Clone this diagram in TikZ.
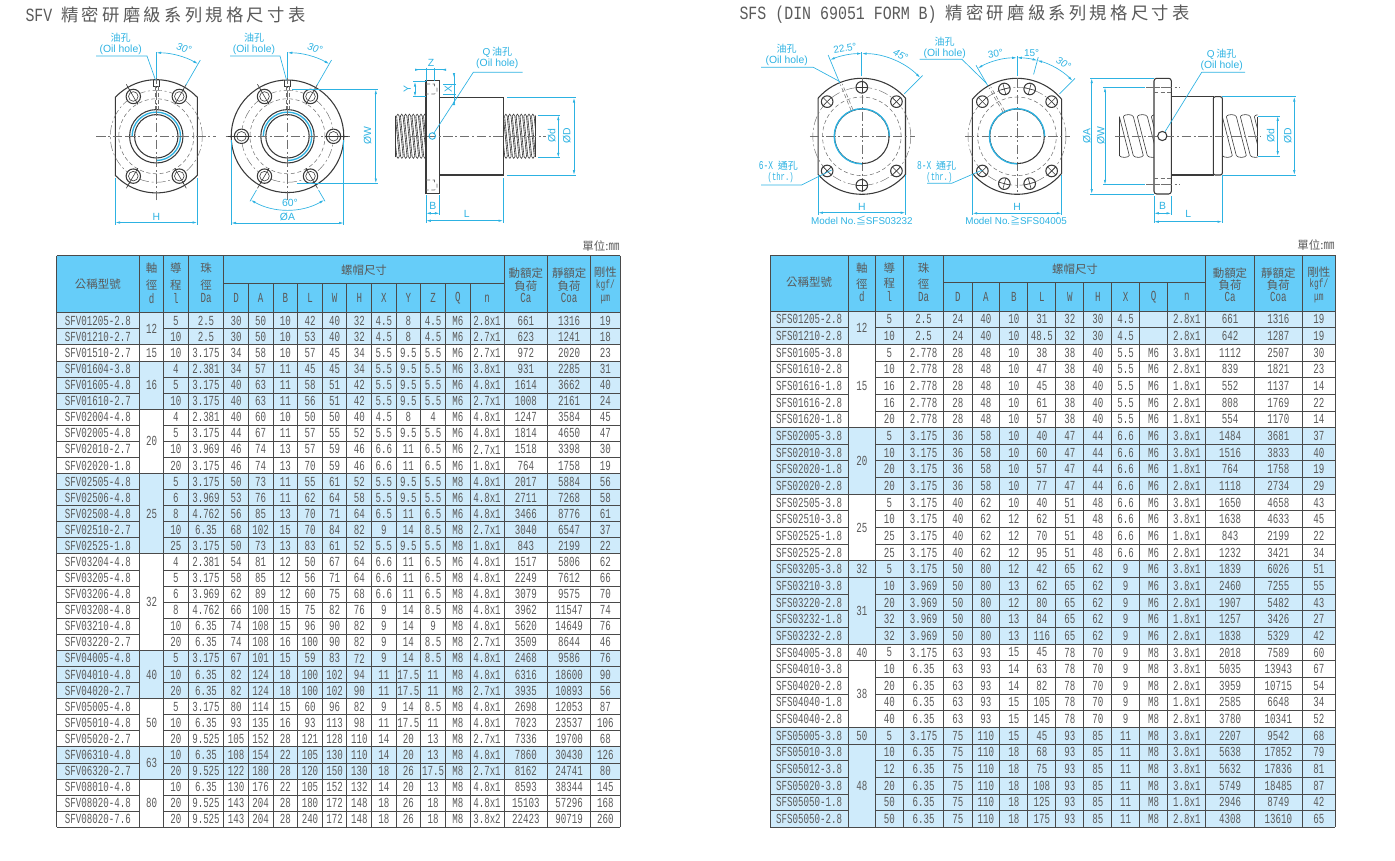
\documentclass[tikz,border=0pt]{standalone}
\usepackage{fontspec}
\usetikzlibrary{arrows.meta,calc}
\setmainfont{Liberation Sans}
\newfontfamily\tabfont[FakeStretch=0.66]{Liberation Mono}
\newfontfamily\ttlfont[FakeStretch=0.80]{Liberation Mono}
\newfontfamily\cjkfont{Noto Sans CJK TC}
\newfontfamily\ttlcjk[LetterSpace=19]{Noto Sans CJK TC}
\definecolor{headblue}{HTML}{66CDF9}
\definecolor{bandblue}{HTML}{CFEBFB}
\definecolor{dimblue}{HTML}{2DB2E2}
\definecolor{tabgray}{HTML}{5A5A5A}
\definecolor{gridgray}{HTML}{4A4A4A}
\definecolor{partgray}{HTML}{3A3A3A}
\definecolor{hidegray}{HTML}{707070}
\tikzset{every picture/.style={line width=0.75pt}}
\tikzset{
  cell/.style={font=\tabfont\fontsize{10.4}{11}\selectfont,text=tabgray,inner sep=0pt},
  head/.style={font=\cjkfont\fontsize{8.6}{10}\selectfont,text=tabgray,inner sep=0pt},
  grid/.style={draw=gridgray,line width=0.65pt},
  part/.style={draw=partgray,line width=0.8pt},
  thinpart/.style={draw=partgray,line width=0.45pt},
  centre/.style={draw=hidegray,line width=0.35pt,dash pattern=on 7pt off 2pt on 1.5pt off 2pt},
  hidden/.style={draw=hidegray,line width=0.4pt,dash pattern=on 3pt off 2pt},
  ext/.style={draw=dimblue,line width=0.5pt},
  dim/.style={draw=dimblue,line width=0.5pt,{Latex[length=3.6pt,width=1.8pt]}-{Latex[length=3.6pt,width=1.8pt]}},
  dimout/.style={draw=dimblue,line width=0.5pt,{Latex[length=3.6pt,width=1.8pt,reversed]}-{Latex[length=3.6pt,width=1.8pt,reversed]}},
  dimtext/.style={text=dimblue,font=\fontsize{7.8}{9}\selectfont,inner sep=0pt},
  angtext/.style={text=dimblue,font=\itshape\fontsize{7.5}{9}\selectfont,inner sep=0pt},
  cjktext/.style={text=dimblue,font=\cjkfont\fontsize{7.5}{9}\selectfont,inner sep=0pt},
  monotext/.style={text=dimblue,font=\tabfont\fontsize{9}{10}\selectfont,inner sep=0pt},
}
\newcommand{\headlatin}{\tabfont\fontsize{10.4}{11}\selectfont}
\newcommand{\headsmall}{\tabfont\fontsize{9}{10}\selectfont}
% flange seen from the front: radius, half width
\newcommand{\flangeface}[2]{%
  \pgfmathsetmacro\flangeang{acos(#2/#1)}
  \draw[part] (\flangeang:#1) arc[start angle=\flangeang,end angle=180-\flangeang,radius=#1] -- (180+\flangeang:#1) arc[start angle=180+\flangeang,end angle=360-\flangeang,radius=#1] -- cycle;}
% counterbored bolt hole of the SFV nut
\newcommand{\boltring}[1]{%
  \draw[thinpart] (#1:37) -- (#1:60);
  \draw[part,fill=white] (#1:46) circle (7.2);
  \draw[thinpart] (#1:46) circle (4.8);
  \draw[thinpart] (#1:37) -- (#1:55);}
% through hole of the SFS nut
\newcommand{\boltplain}[1]{%
  \draw[part] (#1:49) circle (5.8);
  \draw[thinpart] (#1:43.2) -- (#1:54.8);
  \draw[thinpart] ($(#1:49)+(#1+90:5.8)$) -- ($(#1:49)+(#1-90:5.8)$);}
% screw seen from the side: x0, x1, ytop, ybot, pitch, slant, gap
\newcommand{\screwside}[7]{%
  \pgfmathtruncatemacro\screwn{(#2-#1)/#5+1}
  \begin{scope}
  \clip (#1,#3-3) rectangle (#2,#4+3);
  \foreach \k in {-3,...,\screwn}{
    \pgfmathsetmacro\tx{#1+\k*#5}
    \draw[thinpart] (\tx,#3) -- (\tx+#6,#4) (\tx+#7,#3) -- (\tx+#7+#6,#4);
    \draw[thinpart] (\tx+#7,#3) .. controls (\tx+#7+1,#3-2.5) and (\tx+#5-1,#3-2.5) .. (\tx+#5,#3);
    \draw[thinpart] (\tx+#7+#6,#4) .. controls (\tx+#7+#6+1,#4+2.5) and (\tx+#5+#6-1,#4+2.5) .. (\tx+#5+#6,#4);
  }
  \end{scope}}
\def\colsA{{97.9,175.85,206,236.1,260.65,285.4,310,334.55,359.3,383.9,408.45,433.2,457.8,487,525.8,569.2,605.4}}
\def\colsB{{809.15,889.3,923.6,957.95,985.85,1013.75,1041.8,1069.85,1097.75,1125.65,1153.7,1186.75,1230,1278.35,1318.75}}

\begin{document}
\begin{tikzpicture}[x=0.75pt,y=0.75pt,yscale=-1,xscale=1]
\useasboundingbox (0,0) rectangle (1395,860);

% Titles
\draw (25,14.5) node [anchor=west,inner sep=0pt,text=tabgray] (titleA) {\ttlfont\fontsize{14}{16}\selectfont SFV \ttlcjk\fontsize{13}{16}\selectfont 精密研磨級系列規格尺寸表};
\draw (739,14.5) node [anchor=west,inner sep=0pt,text=tabgray] (titleB) {\ttlfont\fontsize{14}{16}\selectfont SFS (DIN 69051 FORM B) \ttlcjk\fontsize{13}{16}\selectfont 精密研磨級系列規格尺寸表};
\draw (620,246.5) node [anchor=east,head] (unitA) {單位:{\headlatin mm}};
\draw (1335,245.5) node [anchor=east,head] (unitB) {單位:{\headlatin mm}};

%%%%%%%%%% SFV table
%Shape: header and bands
\fill[headblue] (56.5,255.7) rectangle (620,312.7);
\foreach \a/\b in {1/2,4/6,11/15,22/24,28/29}
  \fill[bandblue] (56.5,{312.7+16.08*(\a-1)}) rectangle (620,{312.7+16.08*\b});
%Straight Lines
\foreach \a in {0,...,32}
  \draw[grid] (56.5,{312.7+16.08*\a}) -- (139.3,{312.7+16.08*\a}) (163.7,{312.7+16.08*\a}) -- (620,{312.7+16.08*\a});
\foreach \a in {0,2,3,6,10,15,21,24,27,29,32}
  \draw[grid] (139.3,{312.7+16.08*\a}) -- (163.7,{312.7+16.08*\a});
\foreach \vx in {56.5,139.3,163.7,188,223.9,504,547.6,590.8,620}
  \draw[grid] (\vx,255.7) -- (\vx,827.3);
\foreach \vx in {248.3,273,297.8,322.2,346.9,371.7,396.1,420.8,445.6,470}
  \draw[grid] (\vx,283.7) -- (\vx,827.3);
\draw[grid] (56.5,255.7) -- (620,255.7) (223.9,283.7) -- (504,283.7);
% Header Text
\foreach \nm/\tx/\ty/\lab in {a1/97.9/284.3/公稱型號,a2/151.5/268.5/軸,a3/151.5/285/徑,a4/151.5/298.3/{\headlatin d},a5/175.85/268.5/導,a6/175.85/285/程,a7/175.85/298.3/{\headlatin l},a8/206/268.5/珠,a9/206/285/徑,a10/206/298.3/{\headlatin Da},a11/364/270/螺帽尺寸,a12/525.8/273.3/動額定,a13/525.8/286/負荷,a14/525.8/298.3/{\headlatin Ca},a15/569.2/273.3/靜額定,a16/569.2/286/負荷,a17/569.2/298.3/{\headlatin Coa},a18/605.4/272.3/剛性,a19/605.4/285/{\headsmall kgf/},a20/605.4/299.5/{\headsmall μm}}
  \node[head] (h\nm) at (\tx,\ty) {\lab};
\foreach \lab [count=\c from 3] in {D,A,B,L,W,H,X,Y,Z,Q,n}{
  \pgfmathsetmacro\cx{\colsA[\c]}
  \node[cell] (ha\lab) at (\cx,298.3) {\lab};
}
\foreach \dval/\a/\b in {12/1/2,15/3/3,16/4/6,20/7/10,25/11/15,32/16/21,40/22/24,50/25/27,63/28/29,80/30/32}
  \node[cell] (dA\dval) at (151.5,{312.7+16.08*(\a+\b-1)/2}) {\dval};
% Table Text
\foreach \rowdata [count=\r] in {
{SFV01205-2.8,5,2.5,30,50,10,42,40,32,4.5,8,4.5,M6,2.8x1,661,1316,19},
{SFV01210-2.7,10,2.5,30,50,10,53,40,32,4.5,8,4.5,M6,2.7x1,623,1241,18},
{SFV01510-2.7,10,3.175,34,58,10,57,45,34,5.5,9.5,5.5,M6,2.7x1,972,2020,23},
{SFV01604-3.8,4,2.381,34,57,11,45,45,34,5.5,9.5,5.5,M6,3.8x1,931,2285,31},
{SFV01605-4.8,5,3.175,40,63,11,58,51,42,5.5,9.5,5.5,M6,4.8x1,1614,3662,40},
{SFV01610-2.7,10,3.175,40,63,11,56,51,42,5.5,9.5,5.5,M6,2.7x1,1008,2161,24},
{SFV02004-4.8,4,2.381,40,60,10,50,50,40,4.5,8,4,M6,4.8x1,1247,3584,45},
{SFV02005-4.8,5,3.175,44,67,11,57,55,52,5.5,9.5,5.5,M6,4.8x1,1814,4650,47},
{SFV02010-2.7,10,3.969,46,74,13,57,59,46,6.6,11,6.5,M6,2.7x1,1518,3398,30},
{SFV02020-1.8,20,3.175,46,74,13,70,59,46,6.6,11,6.5,M6,1.8x1,764,1758,19},
{SFV02505-4.8,5,3.175,50,73,11,55,61,52,5.5,9.5,5.5,M8,4.8x1,2017,5884,56},
{SFV02506-4.8,6,3.969,53,76,11,62,64,58,5.5,9.5,5.5,M6,4.8x1,2711,7268,58},
{SFV02508-4.8,8,4.762,56,85,13,70,71,64,6.5,11,6.5,M6,4.8x1,3466,8776,61},
{SFV02510-2.7,10,6.35,68,102,15,70,84,82,9,14,8.5,M8,2.7x1,3040,6547,37},
{SFV02525-1.8,25,3.175,50,73,13,83,61,52,5.5,9.5,5.5,M8,1.8x1,843,2199,22},
{SFV03204-4.8,4,2.381,54,81,12,50,67,64,6.6,11,6.5,M6,4.8x1,1517,5806,62},
{SFV03205-4.8,5,3.175,58,85,12,56,71,64,6.6,11,6.5,M8,4.8x1,2249,7612,66},
{SFV03206-4.8,6,3.969,62,89,12,60,75,68,6.6,11,6.5,M8,4.8x1,3079,9575,70},
{SFV03208-4.8,8,4.762,66,100,15,75,82,76,9,14,8.5,M8,4.8x1,3962,11547,74},
{SFV03210-4.8,10,6.35,74,108,15,96,90,82,9,14,9,M8,4.8x1,5620,14649,76},
{SFV03220-2.7,20,6.35,74,108,16,100,90,82,9,14,8.5,M8,2.7x1,3509,8644,46},
{SFV04005-4.8,5,3.175,67,101,15,59,83,72,9,14,8.5,M8,4.8x1,2468,9586,76},
{SFV04010-4.8,10,6.35,82,124,18,100,102,94,11,17.5,11,M8,4.8x1,6316,18600,90},
{SFV04020-2.7,20,6.35,82,124,18,100,102,90,11,17.5,11,M8,2.7x1,3935,10893,56},
{SFV05005-4.8,5,3.175,80,114,15,60,96,82,9,14,8.5,M8,4.8x1,2698,12053,87},
{SFV05010-4.8,10,6.35,93,135,16,93,113,98,11,17.5,11,M8,4.8x1,7023,23537,106},
{SFV05020-2.7,20,9.525,105,152,28,121,128,110,14,20,13,M8,2.7x1,7336,19700,68},
{SFV06310-4.8,10,6.35,108,154,22,105,130,110,14,20,13,M8,4.8x1,7860,30430,126},
{SFV06320-2.7,20,9.525,122,180,28,120,150,130,18,26,17.5,M8,2.7x1,8162,24741,80},
{SFV08010-4.8,10,6.35,130,176,22,105,152,132,14,20,13,M8,4.8x1,8593,38344,145},
{SFV08020-4.8,20,9.525,143,204,28,180,172,148,18,26,18,M8,4.8x1,15103,57296,168},
{SFV08020-7.6,20,9.525,143,204,28,240,172,148,18,26,18,M8,3.8x2,22423,90719,260}}{
  \foreach \entry [count=\c] in \rowdata{
    \pgfmathsetmacro\cx{\colsA[\c-1]}
    \node[cell] (cA\r-\c) at (\cx,{312.7+16.08*(\r-0.5)}) {\entry};
  }
}

%%%%%%%%%% SFS table
%Shape: header and bands
\fill[headblue] (770,255) rectangle (1335,311);
\foreach \a/\b in {1/2,8/11,16/20,26/31}
  \fill[bandblue] (770,{311+16.655*(\a-1)}) rectangle (1335,{311+16.655*\b});
%Straight Lines
\foreach \a in {0,...,31}
  \draw[grid] (770,{311+16.655*\a}) -- (848.3,{311+16.655*\a}) (875.3,{311+16.655*\a}) -- (1335,{311+16.655*\a});
\foreach \a in {0,2,7,11,15,16,20,21,25,26,31}
  \draw[grid] (848.3,{311+16.655*\a}) -- (875.3,{311+16.655*\a});
\foreach \vx in {770,848.3,875.3,903.3,943.9,1205.8,1254.2,1302.5,1335}
  \draw[grid] (\vx,255) -- (\vx,827.3);
\foreach \vx in {972,999.7,1027.8,1055.8,1083.9,1111.6,1139.7,1167.7}
  \draw[grid] (\vx,282.7) -- (\vx,827.3);
\draw[grid] (770,255) -- (1335,255) (943.9,282.7) -- (1205.8,282.7);
% Header Text
\foreach \nm/\tx/\ty/\lab in {b1/809.15/282.3/公稱型號,b2/861.8/268/軸,b3/861.8/283.7/徑,b4/861.8/296.7/{\headlatin d},b5/889.3/268/導,b6/889.3/283.7/程,b7/889.3/296.7/{\headlatin l},b8/923.6/268/珠,b9/923.6/283.7/徑,b10/923.6/296.7/{\headlatin Da},b11/1075/269/螺帽尺寸,b12/1230/272.7/動額定,b13/1230/285/負荷,b14/1230/297/{\headlatin Ca},b15/1278.35/272.7/靜額定,b16/1278.35/285/負荷,b17/1278.35/297/{\headlatin Coa},b18/1318.75/271.7/剛性,b19/1318.75/284/{\headsmall kgf/},b20/1318.75/298.5/{\headsmall μm}}
  \node[head] (h\nm) at (\tx,\ty) {\lab};
\foreach \lab [count=\c from 3] in {D,A,B,L,W,H,X,Q,n}{
  \pgfmathsetmacro\cx{\colsB[\c]}
  \node[cell] (hb\lab) at (\cx,297) {\lab};
}
\foreach \dval/\a/\b in {12/1/2,15/3/7,20/8/11,25/12/15,32/16/16,31/17/20,40/21/21,38/22/25,50/26/26,48/27/31}
  \node[cell] (dB\dval) at (861.8,{311+16.655*(\a+\b-1)/2}) {\dval};
% Table Text
\foreach \rowdata [count=\r] in {
{SFS01205-2.8,5,2.5,24,40,10,31,32,30,4.5,,2.8x1,661,1316,19},
{SFS01210-2.8,10,2.5,24,40,10,48.5,32,30,4.5,,2.8x1,642,1287,19},
{SFS01605-3.8,5,2.778,28,48,10,38,38,40,5.5,M6,3.8x1,1112,2507,30},
{SFS01610-2.8,10,2.778,28,48,10,47,38,40,5.5,M6,2.8x1,839,1821,23},
{SFS01616-1.8,16,2.778,28,48,10,45,38,40,5.5,M6,1.8x1,552,1137,14},
{SFS01616-2.8,16,2.778,28,48,10,61,38,40,5.5,M6,2.8x1,808,1769,22},
{SFS01620-1.8,20,2.778,28,48,10,57,38,40,5.5,M6,1.8x1,554,1170,14},
{SFS02005-3.8,5,3.175,36,58,10,40,47,44,6.6,M6,3.8x1,1484,3681,37},
{SFS02010-3.8,10,3.175,36,58,10,60,47,44,6.6,M6,3.8x1,1516,3833,40},
{SFS02020-1.8,20,3.175,36,58,10,57,47,44,6.6,M6,1.8x1,764,1758,19},
{SFS02020-2.8,20,3.175,36,58,10,77,47,44,6.6,M6,2.8x1,1118,2734,29},
{SFS02505-3.8,5,3.175,40,62,10,40,51,48,6.6,M6,3.8x1,1650,4658,43},
{SFS02510-3.8,10,3.175,40,62,12,62,51,48,6.6,M6,3.8x1,1638,4633,45},
{SFS02525-1.8,25,3.175,40,62,12,70,51,48,6.6,M6,1.8x1,843,2199,22},
{SFS02525-2.8,25,3.175,40,62,12,95,51,48,6.6,M6,2.8x1,1232,3421,34},
{SFS03205-3.8,5,3.175,50,80,12,42,65,62,9,M6,3.8x1,1839,6026,51},
{SFS03210-3.8,10,3.969,50,80,13,62,65,62,9,M6,3.8x1,2460,7255,55},
{SFS03220-2.8,20,3.969,50,80,12,80,65,62,9,M6,2.8x1,1907,5482,43},
{SFS03232-1.8,32,3.969,50,80,13,84,65,62,9,M6,1.8x1,1257,3426,27},
{SFS03232-2.8,32,3.969,50,80,13,116,65,62,9,M6,2.8x1,1838,5329,42},
{SFS04005-3.8,5,3.175,63,93,15,45,78,70,9,M8,3.8x1,2018,7589,60},
{SFS04010-3.8,10,6.35,63,93,14,63,78,70,9,M8,3.8x1,5035,13943,67},
{SFS04020-2.8,20,6.35,63,93,14,82,78,70,9,M8,2.8x1,3959,10715,54},
{SFS04040-1.8,40,6.35,63,93,15,105,78,70,9,M8,1.8x1,2585,6648,34},
{SFS04040-2.8,40,6.35,63,93,15,145,78,70,9,M8,2.8x1,3780,10341,52},
{SFS05005-3.8,5,3.175,75,110,15,45,93,85,11,M8,3.8x1,2207,9542,68},
{SFS05010-3.8,10,6.35,75,110,18,68,93,85,11,M8,3.8x1,5638,17852,79},
{SFS05012-3.8,12,6.35,75,110,18,75,93,85,11,M8,3.8x1,5632,17836,81},
{SFS05020-3.8,20,6.35,75,110,18,108,93,85,11,M8,3.8x1,5749,18485,87},
{SFS05050-1.8,50,6.35,75,110,18,125,93,85,11,M8,1.8x1,2946,8749,42},
{SFS05050-2.8,50,6.35,75,110,18,175,93,85,11,M8,2.8x1,4308,13610,65}}{
  \foreach \entry [count=\c] in \rowdata{
    \pgfmathsetmacro\cx{\colsB[\c-1]}
    \node[cell] (cB\r-\c) at (\cx,{311+16.655*(\r-0.5)}) {\entry};
  }
}

%%%%%%%%%% SFV front, flat sides
\begin{scope}[shift={(156.3,136.3)},yscale=-1]
\flangeface{56.6}{41}
\draw[centre] (-60,0) -- (60,0) (0,-64) -- (0,58);
\draw[centre] (0,0) circle (46);
\draw[hidden] (0,0) circle (37.5);
\foreach \a in {60,120,240,300} {\boltring{\a}}
\draw[part,fill=white] (0,0) circle (26.7);
\draw[part] (0,0) circle (21.7);
\draw[ext,line width=1pt] (180:24.2) arc[start angle=180,end angle=-90,radius=24.2];
\draw[centre] (-30,0) -- (30,0) (0,30) -- (0,-30);
\draw[thinpart] (-3,56.5) -- (-3,50) -- (3,50) -- (3,56.5);
\draw[hidden] (-1.5,50) -- (-1.5,27) (1.5,50) -- (1.5,27);
%Angle
\draw[ext] (60:59) -- (60:88);
\draw[ext] (90:58) -- (90:84);
\draw[dim] (90:83.5) arc[start angle=90,end angle=60,radius=83.5];
\end{scope}
\draw (120.7,37.8) node [cjktext] (oilA) {油孔};
\draw (120.7,49.8) node [dimtext] (oilAen) {(Oil hole)};
\draw[ext] (96,56) -- (147,56) -- (155.5,80);
\draw (184,48.5) node [angtext,rotate=-15] (angA) {30°};
%Width H
\draw[ext] (115.3,178) -- (115.3,224.5) (197.3,178) -- (197.3,224.5);
\draw[dim] (115.3,222.5) -- (197.3,222.5);
\draw (156.3,216.5) node [dimtext] (dimH1) {H};

%%%%%%%%%% SFV front, round
\begin{scope}[shift={(287.5,136.3)},yscale=-1]
\draw[part] (0,0) circle (56.3);
\draw[centre] (-62,0) -- (62,0) (0,-64) -- (0,58);
\draw[centre] (0,0) circle (46);
\draw[hidden] (0,0) circle (37.5);
\foreach \a in {0,60,120,180,240,300} {\boltring{\a}}
\draw[part,fill=white] (0,0) circle (26.7);
\draw[part] (0,0) circle (21.7);
\draw[ext,line width=1pt] (180:24.2) arc[start angle=180,end angle=-90,radius=24.2];
\draw[centre] (-30,0) -- (30,0) (0,30) -- (0,-30);
\draw[thinpart] (-3,56) -- (-3,50) -- (3,50) -- (3,56);
\draw[hidden] (-1.5,50) -- (-1.5,27) (1.5,50) -- (1.5,27);
%Angles
\draw[ext] (60:59) -- (60:88);
\draw[ext] (90:58) -- (90:84);
\draw[dim] (90:83.5) arc[start angle=90,end angle=60,radius=83.5];
\draw[ext] (240:62) -- (240:75) (300:62) -- (300:75);
\draw[dim] (240:73.5) arc[start angle=240,end angle=300,radius=73.5];
\end{scope}
\draw (254,37.8) node [cjktext] (oilB) {油孔};
\draw (254,49.8) node [dimtext] (oilBen) {(Oil hole)};
\draw[ext] (230,56) -- (280,56) -- (286.5,80);
\draw (315,48.5) node [angtext,rotate=-15] (angB) {30°};
\draw (290,202.5) node [dimtext] (angC) {60°};
%Width A
\draw[ext] (231.2,140) -- (231.2,225) (343.8,140) -- (343.8,225);
\draw[dim] (231.2,223) -- (343.8,223);
\draw (287.5,216.5) node [dimtext] (dimA1) {ØA};
%Width W
\draw[ext] (292,89.3) -- (377.5,89.3) (297,183.3) -- (377.5,183.3);
\draw[dim] (375.8,89.3) -- (375.8,183.3);
\draw (367.6,136) node [dimtext,rotate=90] (dimW1) {ØW};

%%%%%%%%%% SFV side
\screwside{395.3}{426}{116}{156.5}{3.85}{4}{1.3}
\screwside{503.3}{535.7}{116}{156.5}{3.85}{4}{1.3}
\draw[part] (395.3,116) -- (395.3,156.5) (535.7,116) -- (535.7,156.5);
\draw[part,fill=white] (426,80.7) rectangle (439.7,193.3);
\draw[part,fill=white] (439.7,97.7) rectangle (503.3,175);
\draw[hidden] (426,84) -- (434.5,84) -- (434.5,86) -- (437,88) -- (437,92) -- (434.5,94) -- (426,94);
\draw[hidden] (426,180) -- (434.5,180) -- (434.5,182) -- (437,184) -- (437,188) -- (434.5,190) -- (426,190);
\draw[centre] (410,136) -- (546,136);
\draw[ext,line width=0.7pt] (432.3,136) circle (3.3);
\draw[ext] (433.3,134) -- (473.3,72.3) -- (522.7,72.3);
\draw (497.3,52) node [cjktext] (oilC) {{\rmfamily Q\,}油孔};
\draw (497.3,63.8) node [dimtext] (oilCen) {(Oil hole)};
%Z
\draw[ext] (426,67.5) -- (426,80.7) (434.3,67.5) -- (434.3,80.7);
\draw[dimout] (415,69.7) -- (446,69.7);
\draw (431,62.7) node [dimtext] (dimZ1) {Z};
%Y
\draw[ext] (413,81.7) -- (426,81.7) (413,96.7) -- (426,96.7);
\draw[dim] (415,81.7) -- (415,96.7);
\draw (407.3,89.3) node [dimtext,rotate=90] (dimY1) {Y};
%X
\draw[ext] (443,84) -- (456,84) (443,94) -- (456,94);
\draw[dimout] (454,73) -- (454,105);
\draw (448.3,89.3) node [dimtext,rotate=90] (dimX1) {X};
%B and L
\draw[ext] (426,195) -- (426,222.5) (439.7,195) -- (439.7,215) (503.3,178) -- (503.3,222.5);
\draw[dim] (426,213.3) -- (439.7,213.3);
\draw[dim] (426,220.7) -- (503.3,220.7);
\draw (432.8,206) node [dimtext] (dimB1) {B};
\draw (466.7,214.3) node [dimtext] (dimL1) {L};
%D and d
\draw[ext] (507,97.7) -- (575.5,97.7) (507,175) -- (575.5,175);
\draw[dim] (574,97.7) -- (574,175);
\draw (566.7,136) node [dimtext,rotate=90] (dimD1) {ØD};
\draw[ext] (538,115.3) -- (560,115.3) (538,157.7) -- (560,157.7);
\draw[dim] (558.3,115.3) -- (558.3,157.7);
\draw (551.7,136) node [dimtext,rotate=90] (dimd1) {Ød};

%%%%%%%%%% SFS front, up to SFS03232
\begin{scope}[shift={(861.8,136.3)},yscale=-1]
\flangeface{58}{43.7}
\draw[centre] (-52,0) -- (53,0) (0,58) -- (0,-58);
\draw[centre] (0,0) circle (49);
\draw[hidden] (0,0) circle (39.3);
\foreach \a in {45,90,135,225,270,315} {\boltplain{\a}}
\draw[part] (0,0) circle (27.3);
\draw[ext,line width=1pt] (270:27.6) arc[start angle=270,end angle=0,radius=27.6];
\draw[hidden] (112.5:28) -- (112.5:56);
\draw[hidden] ($(112.5:28)+(22.5:2)$) -- ($(112.5:56)+(22.5:2)$);
%Angles
\draw[ext] (90:60) -- (90:84);
\draw[ext] (112.5:58) -- (112.5:88);
\draw[ext] (45:60) -- (45:86);
\draw[dim] (90:82.7) arc[start angle=90,end angle=112.5,radius=82.7];
\draw[dim] (90:82.7) arc[start angle=90,end angle=45,radius=82.7];
\end{scope}
\draw (786.7,49) node [cjktext] (oilD) {油孔};
\draw (786.7,60.5) node [dimtext] (oilDen) {(Oil hole)};
\draw[ext] (761,67.3) -- (813.3,67.3) -- (840,81.7);
\draw (845,48.3) node [angtext,rotate=10,font=\fontsize{7.5}{9}\selectfont] (angD) {22.5°};
\draw (900.7,55) node [angtext,rotate=-28] (angE) {45°};
\draw (778.3,165.5) node [monotext] (holeD) {6-X {\cjkfont\fontsize{7.5}{9}\selectfont 通孔}};
\draw (780.7,178) node [monotext,font=\tabfont\fontsize{8.2}{10}\selectfont] (holeDen) {(thr.)};
\draw[ext] (761,185) -- (801.7,185) -- (831.7,170);
\draw[ext] (818.1,175) -- (818.1,214.5) (905.5,175) -- (905.5,214.5);
\draw[dim] (818.1,212.7) -- (905.5,212.7);
\draw (861.8,206.7) node [dimtext] (dimH2) {H};
\draw (861.8,220.7) node [dimtext,font=\fontsize{7.4}{9}\selectfont] (modelA) {Model No.{\cjkfont ≦}SFS03232};

%%%%%%%%%% SFS front, from SFS04005
\begin{scope}[shift={(1017,136.3)},yscale=-1]
\flangeface{58}{44.6}
\draw[centre] (-52,0) -- (53,0) (0,58) -- (0,-58);
\draw[centre] (0,0) circle (49);
\draw[hidden] (0,0) circle (39.3);
\foreach \a in {45,75,105,135,225,255,285,315} {\boltplain{\a}}
\draw[part] (0,0) circle (27.3);
\draw[ext,line width=1pt] (270:27.6) arc[start angle=270,end angle=0,radius=27.6];
\draw[hidden] (120:28) -- (120:56);
\draw[hidden] ($(120:28)+(30:2)$) -- ($(120:56)+(30:2)$);
%Angles
\draw[ext] (90:60) -- (90:80);
\draw[ext] (120:58) -- (120:82);
\draw[ext] (75:64) -- (75:82);
\draw[ext] (45:60) -- (45:82);
\draw[dim] (90:78.5) arc[start angle=90,end angle=120,radius=78.5];
\draw[dim] (90:78.5) arc[start angle=90,end angle=75,radius=78.5];
\draw[dim] (75:78.5) arc[start angle=75,end angle=45,radius=78.5];
\end{scope}
\draw (944.7,41.8) node [cjktext] (oilE) {油孔};
\draw (944.7,53.8) node [dimtext] (oilEen) {(Oil hole)};
\draw[ext] (919.7,59.3) -- (961.9,59.3) -- (986.5,83.3);
\draw (995.5,53.3) node [angtext,rotate=10,font=\fontsize{7.5}{9}\selectfont] (angF) {30°};
\draw (1031.6,52.7) node [angtext,font=\fontsize{7.5}{9}\selectfont] (angG) {15°};
\draw (1063.6,63.3) node [angtext,rotate=-28] (angH) {30°};
\draw (936.5,165.5) node [monotext] (holeE) {8-X {\cjkfont\fontsize{7.5}{9}\selectfont 通孔}};
\draw (939.4,178) node [monotext,font=\tabfont\fontsize{8.2}{10}\selectfont] (holeEen) {(thr.)};
\draw[ext] (927,183.3) -- (951.7,183.3) -- (982.4,170);
\draw[ext] (972.4,175) -- (972.4,215) (1061.6,175) -- (1061.6,215);
\draw[dim] (972.4,213.3) -- (1061.6,213.3);
\draw (1017,207) node [dimtext] (dimH3) {H};
\draw (1016,220.7) node [dimtext,font=\fontsize{7.4}{9}\selectfont] (modelB) {Model No.{\cjkfont ≧}SFS04005};

%%%%%%%%%% SFS side
\screwside{1119.3}{1154}{116.5}{155.5}{14}{10}{4}
\screwside{1222.3}{1257.7}{116.5}{155.5}{14}{10}{4}
\draw[part] (1119.3,116.5) -- (1119.3,155.5) (1257.7,116.5) -- (1257.7,155.5);
\draw[part,fill=white,rounded corners=2pt] (1154,78.3) rectangle (1171.3,194);
\draw[part,fill=white] (1171.3,96.7) rectangle (1213.3,175);
\draw[part,fill=white,rounded corners=1.5pt] (1213.3,96.7) rectangle (1222.3,175);
\draw[hidden] (1154,87.3) -- (1171.3,87.3) (1154,92.7) -- (1171.3,92.7) (1154,178.7) -- (1171.3,178.7) (1154,184.7) -- (1171.3,184.7);
\draw[centre] (1115,136) -- (1261,136);
\draw[centre] (1146,87.3) -- (1180,87.3) (1146,184.7) -- (1180,184.7);
\draw[part,fill=white] (1162.3,136) circle (4.6);
\draw[ext] (1165,131.7) -- (1201.7,72.3) -- (1245,72.3);
\draw (1221.7,54.5) node [cjktext] (oilF) {{\rmfamily Q\,}油孔};
\draw (1221.7,66) node [dimtext] (oilFen) {(Oil hole)};
%A and W
\draw[ext] (1090,78.3) -- (1154,78.3) (1090,194) -- (1154,194);
\draw[dim] (1091.7,78.3) -- (1091.7,194);
\draw (1086.7,136) node [dimtext,rotate=90] (dimA2) {ØA};
\draw[ext] (1103.3,87.3) -- (1145,87.3) (1103.3,184.7) -- (1145,184.7);
\draw[dim] (1105,87.3) -- (1105,184.7);
\draw (1100.7,136) node [dimtext,rotate=90] (dimW2) {ØW};
%B and L
\draw[ext] (1154,196) -- (1154,223) (1171.3,196) -- (1171.3,215) (1222.3,176) -- (1222.3,223);
\draw[dim] (1154,213.3) -- (1171.3,213.3);
\draw[dim] (1154,221.7) -- (1222.3,221.7);
\draw (1162.7,206) node [dimtext] (dimB2) {B};
\draw (1188.3,214) node [dimtext] (dimL2) {L};
%D and d
\draw[ext] (1222.3,96.7) -- (1296,96.7) (1222.3,175) -- (1296,175);
\draw[dim] (1294.3,96.7) -- (1294.3,175);
\draw (1287.7,136) node [dimtext,rotate=90] (dimD2) {ØD};
\draw[ext] (1258,116) -- (1279.5,116) (1258,156) -- (1279.5,156);
\draw[dim] (1277.7,116) -- (1277.7,156);
\draw (1270.7,136) node [dimtext,rotate=90] (dimd2) {Ød};

\end{tikzpicture}
\end{document}
